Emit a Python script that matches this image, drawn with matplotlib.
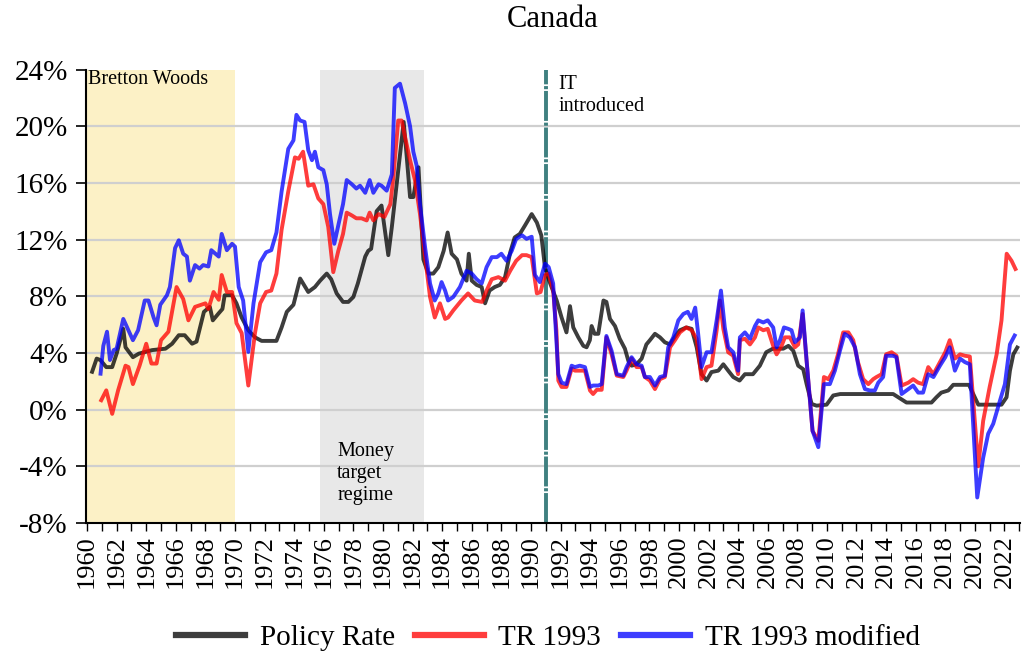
import matplotlib
matplotlib.use("Agg")
import matplotlib.pyplot as plt
from matplotlib.lines import Line2D

plt.rcParams['font.family'] = ['Liberation Serif', 'DejaVu Serif']

title = "Canada"
series_names = ["Policy Rate", "TR 1993", "TR 1993 modified"]

# Policy rate (year, %)
pr_year = [1960.3, 1960.65, 1960.9, 1961.3, 1961.7, 1962.0, 1962.45, 1962.6, 1963.1, 1963.5,
           1964.4, 1965.3, 1965.75, 1966.2, 1966.6, 1967.1, 1967.4, 1967.9, 1968.3, 1968.5,
           1968.9, 1969.15, 1969.3, 1969.8, 1970.1, 1970.45, 1970.9, 1971.35, 1971.8, 1972.8,
           1973.15, 1973.5, 1973.95, 1974.4, 1974.95, 1975.4, 1975.75, 1976.2, 1976.5, 1976.87,
           1977.3, 1977.66, 1978.0, 1978.3, 1978.8, 1979.0, 1979.2, 1979.57, 1979.9, 1980.36,
           1980.6, 1981.03, 1981.4, 1981.6, 1981.83, 1982.05, 1982.4, 1982.73, 1983.06, 1983.4,
           1983.74, 1984.1, 1984.37, 1984.64, 1985.0, 1985.3, 1985.65, 1985.8, 1986.0, 1986.33,
           1986.67, 1986.9, 1987.2, 1987.55, 1987.9, 1988.25, 1988.6, 1988.9, 1989.25, 1989.6,
           1990.05, 1990.4, 1990.7, 1990.95, 1991.3, 1991.74, 1992.07, 1992.4, 1992.64, 1992.86,
           1993.2, 1993.54, 1993.76, 1993.98, 1994.1, 1994.3, 1994.55, 1994.9, 1995.1, 1995.34,
           1995.68, 1996.0, 1996.35, 1996.58, 1996.8, 1997.14, 1997.48, 1997.8, 1998.04, 1998.38,
           1998.72, 1999.05, 1999.4, 1999.7, 2000.06, 2000.5, 2000.86, 2001.2, 2001.53, 2001.87,
           2002.2, 2002.66, 2003.0, 2003.33, 2003.67, 2004.1, 2004.46, 2005.0, 2005.47, 2005.9,
           2006.35, 2006.8, 2007.05, 2007.4, 2007.73, 2008.06, 2008.4, 2008.63, 2008.97, 2009.3,
           2009.98, 2010.43, 2010.9, 2014.48, 2014.82, 2015.38, 2017.07, 2017.4, 2017.73, 2018.2,
           2018.54, 2019.6, 2019.89, 2020.23, 2021.8, 2022.14, 2022.37, 2022.6, 2022.93]
pr_rate = [2.54, 3.6, 3.5, 3.0, 3.0, 3.95, 5.7, 4.4, 3.7, 3.95,
           4.2, 4.3, 4.65, 5.25, 5.25, 4.65, 4.8, 6.9, 7.25, 6.3,
           6.8, 7.1, 8.07, 8.07, 7.5, 6.5, 5.6, 5.1, 4.85, 4.85,
           5.8, 6.9, 7.4, 9.25, 8.3, 8.65, 9.1, 9.6, 9.2, 8.2,
           7.6, 7.6, 7.95, 8.9, 10.8, 11.2, 11.35, 14.0, 14.4, 10.9,
           12.9, 16.9, 20.3, 17.9, 15.0, 15.0, 17.1, 10.6, 9.6, 9.6,
           10.05, 11.2, 12.5, 11.0, 10.6, 9.6, 9.1, 11.0, 9.1, 8.8,
           8.65, 7.5, 8.4, 8.65, 8.8, 9.35, 11.1, 12.15, 12.4, 13.0,
           13.8, 13.2, 12.3, 10.0, 8.9, 7.7, 6.5, 5.45, 7.3, 5.8,
           5.1, 4.5, 4.4, 4.9, 5.9, 5.35, 5.35, 7.7, 7.6, 6.4,
           5.9, 5.0, 4.3, 3.45, 3.1, 3.2, 3.6, 4.6, 4.9, 5.35,
           5.1, 4.75, 4.6, 5.1, 5.6, 5.8, 5.7, 4.4, 2.5, 2.05,
           2.65, 2.75, 3.2, 2.75, 2.3, 2.05, 2.5, 2.5, 3.1, 4.05,
           4.3, 4.3, 4.3, 4.5, 4.15, 3.1, 2.85, 1.8, 0.4, 0.28,
           0.35, 1.0, 1.1, 1.1, 0.87, 0.5, 0.5, 0.87, 1.2, 1.35,
           1.75, 1.75, 1.1, 0.35, 0.35, 0.87, 2.75, 3.9, 4.5]

# Taylor rule 1993 (year, %)
tr_year = [1960.9, 1961.3, 1961.7, 1962.1, 1962.6, 1962.8, 1963.1, 1963.55, 1964.0, 1964.35,
           1964.7, 1965.0, 1965.5, 1966.05, 1966.5, 1966.85, 1967.3, 1968.0, 1968.2, 1968.55,
           1968.9, 1969.1, 1969.45, 1969.8, 1970.1, 1970.45, 1970.9, 1971.35, 1971.7, 1972.1,
           1972.45, 1972.8, 1973.15, 1973.6, 1974.05, 1974.3, 1974.6, 1974.95, 1975.3, 1975.63,
           1975.97, 1976.3, 1976.64, 1976.98, 1977.3, 1977.55, 1977.9, 1978.2, 1978.55, 1978.9,
           1979.1, 1979.35, 1979.7, 1980.1, 1980.5, 1980.7, 1981.03, 1981.26, 1981.5, 1981.83,
           1982.16, 1982.5, 1982.84, 1983.18, 1983.5, 1983.85, 1984.2, 1984.4, 1984.75, 1985.3,
           1985.75, 1986.2, 1986.7, 1987.0, 1987.35, 1987.8, 1988.25, 1988.6, 1989.0, 1989.4,
           1989.7, 1990.05, 1990.4, 1990.65, 1990.95, 1991.2, 1991.5, 1991.72, 1991.85, 1992.07,
           1992.4, 1992.75, 1992.97, 1993.3, 1993.65, 1993.99, 1994.2, 1994.45, 1994.78, 1995.1,
           1995.45, 1995.8, 1996.24, 1996.46, 1996.8, 1997.14, 1997.48, 1997.7, 1998.04, 1998.38,
           1998.72, 1999.05, 1999.4, 1999.73, 2000.07, 2000.5, 2000.86, 2001.2, 2001.53, 2001.87,
           2002.2, 2002.55, 2002.77, 2003.0, 2003.33, 2003.67, 2004.0, 2004.12, 2004.46, 2004.8,
           2005.14, 2005.36, 2005.7, 2006.0, 2006.37, 2006.6, 2006.94, 2007.16, 2007.5, 2007.84,
           2008.06, 2008.36, 2008.63, 2009.03, 2009.42, 2009.8, 2010.1, 2010.43, 2010.75, 2011.1,
           2011.45, 2011.78, 2012.1, 2012.45, 2012.8, 2013.13, 2013.35, 2013.7, 2014.0, 2014.37,
           2014.7, 2015.05, 2015.5, 2015.83, 2016.17, 2016.5, 2016.85, 2017.2, 2017.64, 2018.0,
           2018.3, 2018.65, 2019.0, 2019.33, 2019.66, 2020.23, 2020.56, 2021.0, 2021.47, 2021.8,
           2022.15, 2022.48, 2022.8]
tr_rate = [0.54, 1.36, -0.3, 1.36, 3.1, 3.0, 1.8, 3.1, 4.65, 3.25,
           3.25, 4.9, 5.5, 8.65, 7.8, 6.3, 7.25, 7.5, 7.1, 8.3,
           7.75, 9.5, 8.3, 8.3, 6.1, 5.4, 1.7, 5.4, 7.5, 8.3,
           8.4, 9.6, 12.7, 15.4, 17.8, 17.7, 18.2, 15.8, 15.9, 14.9,
           14.5, 12.9, 9.7, 11.2, 12.4, 13.9, 13.7, 13.5, 13.5, 13.35,
           13.9, 13.35, 13.8, 13.6, 14.5, 16.4, 20.4, 20.4, 19.2, 17.6,
           16.2, 13.8, 10.8, 7.95, 6.5, 7.5, 6.4, 6.5, 7.0, 7.7,
           8.2, 7.7, 7.6, 8.4, 9.2, 9.35, 9.1, 9.8, 10.5, 10.9,
           10.9, 10.76, 8.2, 8.3, 9.5, 9.6, 8.4, 5.6, 2.05, 1.6,
           1.6, 2.9, 2.75, 2.75, 2.75, 1.35, 1.1, 1.4, 1.4, 5.1,
           3.9, 2.4, 2.3, 2.75, 3.6, 3.0, 3.0, 2.3, 2.05, 1.45,
           2.15, 2.3, 4.4, 4.9, 5.45, 5.8, 5.6, 5.0, 2.15, 3.0,
           3.1, 5.6, 7.7, 5.7, 4.05, 3.8, 2.5, 4.9, 5.0, 4.6,
           5.1, 5.8, 5.6, 5.7, 4.5, 3.9, 4.5, 5.1, 5.1, 4.4,
           4.6, 6.75, 3.45, -1.5, -2.2, 2.3, 2.15, 2.75, 3.9, 5.45,
           5.45, 4.9, 3.35, 2.15, 1.8, 2.15, 2.3, 2.5, 3.9, 4.05,
           3.8, 1.7, 1.9, 2.15, 1.9, 1.8, 3.0, 2.5, 3.35, 4.05,
           4.9, 3.6, 3.9, 3.8, 3.75, -4.0, -0.8, 1.6, 3.9, 6.3,
           11.0, 10.5, 9.8]

# Taylor rule 1993 modified (year, %)
trm_year = [1960.9, 1961.1, 1961.35, 1961.55, 1961.8, 1962.0, 1962.45, 1962.8, 1963.1, 1963.45,
            1963.9, 1964.15, 1964.5, 1964.7, 1964.95, 1965.4, 1965.6, 1965.95, 1966.2, 1966.5,
            1966.75, 1966.95, 1967.3, 1967.6, 1967.85, 1968.2, 1968.4, 1968.9, 1969.1, 1969.45,
            1969.8, 1970.0, 1970.25, 1970.55, 1970.9, 1971.25, 1971.7, 1972.1, 1972.45, 1972.8,
            1973.15, 1973.6, 1973.95, 1974.15, 1974.4, 1974.7, 1974.95, 1975.2, 1975.4, 1975.63,
            1975.97, 1976.2, 1976.42, 1976.71, 1977.0, 1977.3, 1977.55, 1977.9, 1978.2, 1978.45,
            1978.8, 1979.1, 1979.35, 1979.7, 1979.9, 1980.25, 1980.6, 1980.8, 1981.15, 1981.5,
            1981.83, 1982.05, 1982.28, 1982.5, 1982.84, 1983.18, 1983.5, 1983.74, 1983.96, 1984.2,
            1984.4, 1984.75, 1985.2, 1985.65, 1986.0, 1986.33, 1986.67, 1987.0, 1987.35, 1987.7,
            1988.0, 1988.35, 1988.7, 1989.0, 1989.4, 1989.7, 1990.05, 1990.27, 1990.6, 1990.95,
            1991.2, 1991.5, 1991.85, 1992.07, 1992.4, 1992.75, 1992.97, 1993.3, 1993.65, 1993.99,
            1994.2, 1994.55, 1994.78, 1995.1, 1995.45, 1995.8, 1996.24, 1996.46, 1996.8, 1997.14,
            1997.48, 1997.7, 1998.04, 1998.38, 1998.72, 1999.05, 1999.28, 1999.62, 1999.96, 2000.3,
            2000.6, 2000.85, 2001.1, 2001.3, 2001.53, 2001.87, 2002.2, 2002.55, 2002.84, 2003.1,
            2003.33, 2003.67, 2004.0, 2004.12, 2004.46, 2004.8, 2005.14, 2005.36, 2005.7, 2006.0,
            2006.37, 2006.6, 2006.83, 2007.1, 2007.39, 2007.61, 2007.84, 2008.18, 2008.36, 2008.63,
            2009.03, 2009.42, 2009.8, 2010.2, 2010.54, 2010.88, 2011.2, 2011.55, 2011.9, 2012.23,
            2012.57, 2012.9, 2013.24, 2013.47, 2013.8, 2014.0, 2014.48, 2014.7, 2015.05, 2015.5,
            2015.83, 2016.17, 2016.5, 2016.85, 2017.2, 2017.64, 2018.0, 2018.3, 2018.65, 2019.0,
            2019.33, 2019.66, 2020.16, 2020.56, 2020.9, 2021.24, 2021.7, 2022.03, 2022.37, 2022.75]
trm_rate = [2.4, 4.5, 5.5, 3.5, 4.2, 4.3, 6.4, 5.6, 4.9, 5.6,
            7.7, 7.7, 6.5, 5.95, 7.4, 8.07, 8.65, 11.4, 11.95, 11.0,
            10.8, 9.1, 10.2, 9.95, 10.2, 10.1, 11.25, 10.8, 12.4, 11.25,
            11.7, 11.5, 8.65, 7.7, 4.07, 7.5, 10.4, 11.1, 11.25, 12.5,
            15.4, 18.4, 19.0, 20.8, 20.4, 20.3, 18.3, 17.6, 18.2, 17.1,
            16.9, 15.9, 13.8, 11.7, 13.1, 14.5, 16.2, 15.9, 15.6, 15.8,
            15.3, 16.2, 15.3, 15.9, 15.8, 15.45, 16.6, 22.7, 23.0, 21.6,
            20.0, 18.2, 17.2, 14.5, 11.5, 8.9, 7.7, 8.2, 9.0, 8.4,
            7.7, 7.95, 8.65, 9.8, 9.6, 9.2, 8.9, 10.05, 10.76, 10.76,
            11.0, 10.5, 11.2, 12.05, 12.3, 12.05, 12.2, 9.5, 9.0, 10.3,
            10.05, 8.9, 2.5, 1.9, 1.8, 3.1, 3.0, 3.1, 3.0, 1.6,
            1.7, 1.7, 1.8, 5.2, 4.15, 2.5, 2.4, 3.0, 3.7, 3.2,
            3.1, 2.3, 2.3, 1.7, 2.3, 2.4, 4.4, 5.1, 6.3, 6.75,
            6.9, 6.4, 7.2, 5.35, 3.0, 4.05, 4.05, 6.3, 8.4, 5.8,
            4.4, 4.05, 2.75, 5.1, 5.45, 5.0, 5.9, 6.3, 6.15, 6.3,
            5.8, 4.4, 4.9, 5.8, 5.7, 5.6, 4.75, 5.1, 7.0, 3.45,
            -1.5, -2.65, 1.8, 1.8, 2.75, 4.15, 5.35, 5.1, 4.4, 2.5,
            1.45, 1.35, 1.35, 1.9, 2.3, 3.8, 3.8, 3.7, 1.1, 1.45,
            1.7, 1.2, 1.2, 2.5, 2.3, 3.1, 3.7, 4.4, 2.75, 3.6,
            3.35, 3.2, -6.2, -3.4, -1.7, -1.0, 0.65, 1.8, 4.6, 5.35]

# Regimes / events
bretton_woods = (1960.0, 1970.0)
money_target = (1975.75, 1982.75)
it_year = 1991.0

y_ticks = [-8, -4, 0, 4, 8, 12, 16, 20, 24]
y_labels = ["-8%", "-4%", "0%", "4%", "8%", "12%", "16%", "20%", "24%"]
x_minor_years = list(range(1960, 2024))
x_label_years = list(range(1960, 2023, 2))

colors = ["#000000", "#FF0000", "#0000FF"]
alpha = 0.76

fig = plt.figure(figsize=(10.24, 6.58), dpi=100)
ax = fig.add_axes([86 / 1024, 1 - 523 / 658, (1020 - 86) / 1024, (523 - 69.5) / 658])

ax.axvspan(*bretton_woods, color="#FCF1C6", zorder=0, lw=0)
ax.axvspan(*money_target, color="#E8E8E8", zorder=0, lw=0)
for yv in y_ticks[1:-1]:
    ax.axhline(yv, color="#CFCFCF", lw=1.6, zorder=0.5)

ax.axvline(it_year, color="#3F8080", lw=2.8, linestyle=(0, (7.7, 0.45, 0.8, 0.45)), zorder=1)

series = [(pr_year, pr_rate), (tr_year, tr_rate), (trm_year, trm_rate)]
for (xs, ys), c, name in zip(series, colors, series_names):
    ax.plot(xs, ys, color=c, alpha=alpha, lw=2.8, solid_joinstyle="round",
            solid_capstyle="butt", zorder=2, label=name)

ax.set_xlim(1959.93, 2023.05)
ax.set_ylim(y_ticks[0], y_ticks[-1])

ax.set_yticks(y_ticks)
ax.set_yticklabels(y_labels, fontsize=21)
ax.set_xticks(x_label_years)
ax.set_xticklabels([str(y) for y in x_label_years], rotation=90, fontsize=19)
ax.set_xticks(x_minor_years, minor=True)
ax.tick_params(axis="y", direction="out", length=7, width=1.2, pad=6, colors="black")
ax.tick_params(axis="x", which="both", direction="out", length=6, width=1.0, pad=3)

for s in ["top", "right"]:
    ax.spines[s].set_visible(False)
for s in ["left", "bottom"]:
    ax.spines[s].set_linewidth(1.5)
    ax.spines[s].set_color("black")

ax.text(1960.09, 22.95, "Bretton Woods", fontsize=14.5, va="baseline", ha="left", zorder=3)
ax.text(1976.9, -2.3, "Money\ntarget\nregime", fontsize=14.5, va="top", ha="left",
        linespacing=1.2, zorder=3)
ax.text(1991.84, 23.6, "IT\nintroduced", fontsize=14.5, va="top", ha="left",
        linespacing=1.2, zorder=3)

fig.text(553 / 1024, 1 - 27 / 658, title, fontsize=22, ha="center", va="baseline")

handles = [Line2D([], [], color=c, alpha=alpha, lw=4.5) for c in colors]
fig.legend(handles, series_names, loc="center", bbox_to_anchor=(548 / 1024, 1 - 638 / 658),
           ncol=3, frameon=False, fontsize=21, handlelength=2.35, handletextpad=0.5,
           columnspacing=0.7)

fig.savefig("out.png", dpi=100)
